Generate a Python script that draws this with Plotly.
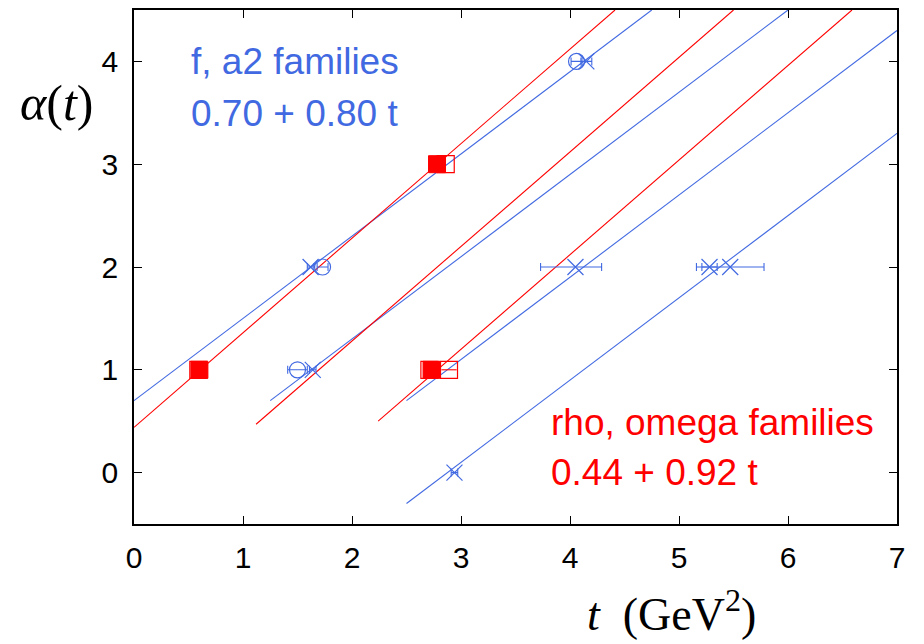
import plotly.graph_objects as go

# Regge trajectory parameters (alpha(t) = intercept + slope * t)
blue_intercept, blue_slope = 0.70, 0.80   # f, a2 families
red_intercept, red_slope = 0.44, 0.92     # rho, omega families

# daughter trajectories: shift in alpha and the t where each line begins
blue_shifts = [0, 1, 2, 3]
blue_start_t = [0.0, 1.25, 2.5, 2.5]
red_shifts = [0, 1, 2]
red_start_t = [0.0, 1.12, 2.24]

# f, a2 family states (open circles / crosses with t errors)
blue_circle_t = [1.50, 1.73, 4.06]
blue_circle_alpha = [1, 2, 4]
blue_circle_err = [0.09, 0.05, 0.05]

blue_cross_t = [1.64, 1.62, 4.15, 4.05, 5.28, 5.47, 2.94]
blue_cross_alpha = [1, 2, 4, 2, 2, 2, 0]
blue_cross_err_plus = [0.03, 0.03, 0.05, 0.24, 0.07, 0.31, 0.03]
blue_cross_err_minus = [0.03, 0.03, 0.05, 0.32, 0.07, 0.31, 0.03]

# rho, omega family states (filled / open squares)
red_filled_t = [0.60, 2.78, 2.73]
red_filled_alpha = [1, 3, 1]
red_open_t = [0.59, 2.86, 2.89, 2.71]
red_open_alpha = [1, 3, 1, 1]
red_open_err = [0.0, 0.0, 0.07, 0.0]

x_ticks = [0, 1, 2, 3, 4, 5, 6, 7]
y_ticks = [0, 1, 2, 3, 4]
x_range = [0, 7]
y_range = [-0.5, 4.5]

BLUE = "rgb(65,105,225)"
RED = "rgb(255,0,0)"


def trajectory(intercept, slope, shift, t0):
    # segment from t0 up to where the line leaves the plotting window
    t_end = min(x_range[1], (y_range[1] - intercept + shift) / slope)
    ts = [t0, t_end]
    return ts, [intercept - shift + slope * t for t in ts]


fig = go.Figure()

for n, t0 in zip(blue_shifts, blue_start_t):
    xs, ys = trajectory(blue_intercept, blue_slope, n, t0)
    fig.add_trace(go.Scatter(x=xs, y=ys, mode="lines",
                             line=dict(color=BLUE, width=1.1), hoverinfo="skip"))

for n, t0 in zip(red_shifts, red_start_t):
    xs, ys = trajectory(red_intercept, red_slope, n, t0)
    fig.add_trace(go.Scatter(x=xs, y=ys, mode="lines",
                             line=dict(color=RED, width=1.1), hoverinfo="skip"))

fig.add_trace(go.Scatter(
    x=blue_circle_t, y=blue_circle_alpha, mode="markers",
    marker=dict(symbol="circle-open", size=16, color=BLUE, line=dict(width=1.2)),
    error_x=dict(type="data", array=blue_circle_err, color=BLUE, thickness=1.1, width=4),
))
fig.add_trace(go.Scatter(
    x=blue_cross_t, y=blue_cross_alpha, mode="markers",
    marker=dict(symbol="x-thin-open", size=16, color=BLUE, line=dict(width=1.2, color=BLUE)),
    error_x=dict(type="data", array=blue_cross_err_plus, arrayminus=blue_cross_err_minus,
                 symmetric=False, color=BLUE, thickness=1.1, width=4),
))
fig.add_trace(go.Scatter(
    x=red_open_t, y=red_open_alpha, mode="markers",
    marker=dict(symbol="square-open", size=17, color=RED, line=dict(width=1.2)),
    error_x=dict(type="data", array=red_open_err, color=RED, thickness=1.1, width=0),
))
fig.add_trace(go.Scatter(
    x=red_filled_t, y=red_filled_alpha, mode="markers",
    marker=dict(symbol="square", size=17, color=RED, line=dict(width=1, color=RED)),
))

label_font = dict(family="Liberation Sans, Arial, sans-serif", size=37)
fig.add_annotation(x=0.50, y=4.0, text="f, a2 families", showarrow=False,
                   xanchor="left", yanchor="middle", font=dict(label_font, color=BLUE))
fig.add_annotation(x=0.50, y=3.49, text="0.70 + 0.80 t", showarrow=False,
                   xanchor="left", yanchor="middle", font=dict(label_font, color=BLUE))
fig.add_annotation(x=3.81, y=0.49, text="rho, omega families", showarrow=False,
                   xanchor="left", yanchor="middle", font=dict(label_font, color=RED))
fig.add_annotation(x=3.81, y=0.0, text="0.44 + 0.92 t", showarrow=False,
                   xanchor="left", yanchor="middle", font=dict(label_font, color=RED))

title_font = dict(family="Liberation Serif, DejaVu Serif, serif", size=50, color="black")
fig.add_annotation(xref="paper", yref="paper", x=-0.152, y=0.82,
                   text="<i>α</i>(<i>t</i>)", showarrow=False,
                   xanchor="left", yanchor="middle", font=title_font)
fig.add_annotation(xref="paper", yref="paper", x=0.705, y=-0.17,
                   text="<i>t</i>  (GeV<sup>2</sup>)", showarrow=False,
                   xanchor="center", yanchor="middle",
                   font=dict(title_font, size=46))

axis_common = dict(
    showgrid=False, zeroline=False, showline=True, linecolor="black", linewidth=1.5,
    mirror="allticks", ticks="inside", ticklen=8, tickwidth=1.2, tickcolor="black",
    tickfont=dict(family="Liberation Sans, Arial, sans-serif", size=30, color="black"),
)
fig.update_xaxes(range=x_range, tickvals=x_ticks, ticktext=[str(v) for v in x_ticks],
                 ticklabelstandoff=6, **axis_common)
fig.update_yaxes(range=y_range, tickvals=y_ticks, ticktext=[str(v) for v in y_ticks],
                 ticklabelstandoff=8, **axis_common)

fig.update_layout(
    width=924, height=644, showlegend=False,
    margin=dict(l=134, r=27, t=8, b=120),
    paper_bgcolor="white", plot_bgcolor="white",
)

fig.write_html("out.html")
